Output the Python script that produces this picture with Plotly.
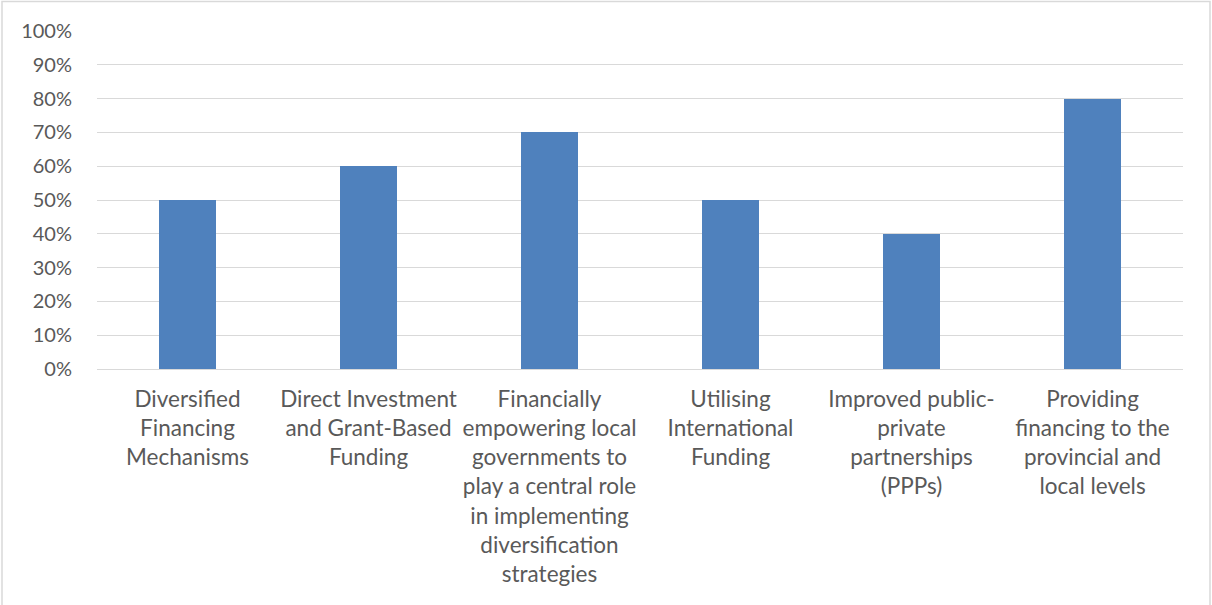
import plotly.graph_objects as go

categories = [
    "Diversified<br>Financing<br>Mechanisms",
    "Direct Investment<br>and Grant-Based<br>Funding",
    "Financially<br>empowering local<br>governments to<br>play a central role<br>in implementing<br>diversification<br>strategies",
    "Utilising<br>International<br>Funding",
    "Improved public-<br>private<br>partnerships<br>(PPPs)",
    "Providing<br>financing to the<br>provincial and<br>local levels",
]
shares = [0.50, 0.60, 0.70, 0.50, 0.40, 0.80]
y_ticks = [i / 10 for i in range(11)]

W, H = 1212, 605
ML, MR, MT, MB = 97, 29, 31, 236

fig = go.Figure(
    go.Bar(
        x=categories,
        y=shares,
        marker=dict(color="#4F81BD", line=dict(width=0)),
        width=0.315,
    )
)

family = "Lato, Open Sans, sans-serif"
grey = "#595959"

fig.update_layout(
    width=W,
    height=H,
    margin=dict(l=ML, r=MR, t=MT, b=MB, pad=0),
    paper_bgcolor="white",
    plot_bgcolor="white",
    font=dict(family=family, size=20, color=grey),
    showlegend=False,
    bargap=0.0,
)
fig.update_xaxes(
    showgrid=False,
    showline=False,
    ticks="",
    tickangle=0,
    ticklabelstandoff=14,
    tickfont=dict(family=family, size=22.5, color=grey),
)
fig.update_yaxes(
    range=[0, 1],
    tickvals=y_ticks,
    tickformat=".0%",
    showgrid=True,
    gridcolor="#D9D9D9",
    gridwidth=1,
    zeroline=True,
    zerolinecolor="#D9D9D9",
    zerolinewidth=1,
    showline=False,
    ticks="",
    ticklabelstandoff=24,
    tickfont=dict(family=family, size=20, color=grey),
)

# outer chart border in paper coordinates
pw, ph = W - ML - MR, H - MT - MB
fig.add_shape(
    type="rect",
    xref="paper",
    yref="paper",
    x0=(2 - ML) / pw,
    x1=(W - 2 - ML) / pw,
    y0=(-MB - 10) / ph,
    y1=(H - MB - 1.5) / ph,
    line=dict(color="#D9D9D9", width=1.5),
    layer="below",
)

fig.write_html("out.html")
